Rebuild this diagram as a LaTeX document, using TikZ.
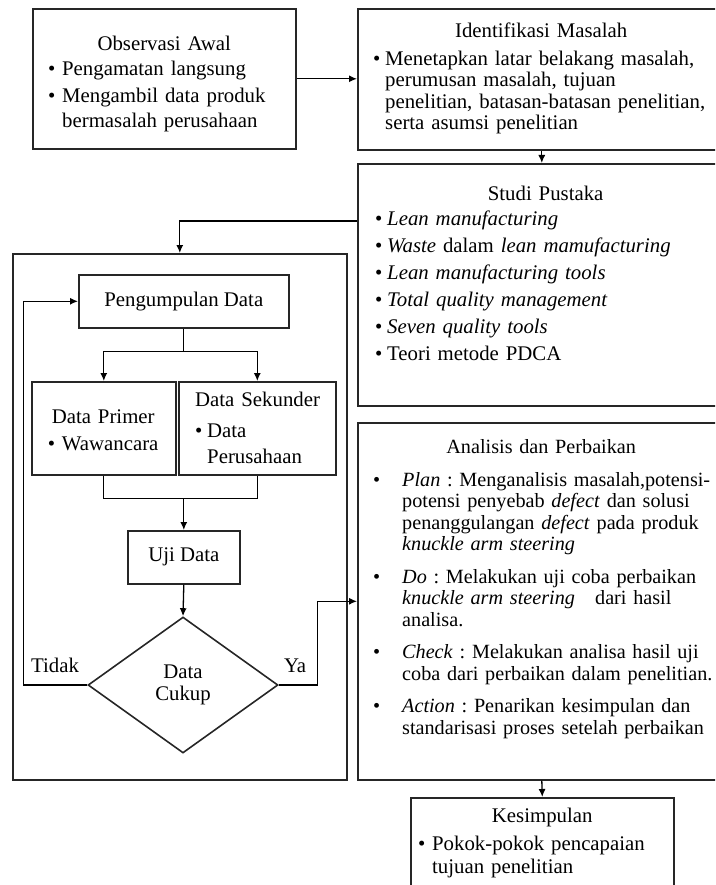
\documentclass[tikz,border=0pt]{standalone}
\usepackage{fontspec}
\setmainfont{Liberation Serif}
\usetikzlibrary{calc,arrows.meta,shapes.geometric}

\newcommand{\butir}[2][14pt]{\par\hangindent=#1\hangafter=1\noindent\makebox[#1][l]{\textbullet}#2\par}
\newcommand{\poin}[1]{\par\noindent\makebox[29pt][l]{\textbullet}\parbox[t]{313pt}{\strut#1\strut}\par}
\newcommand{\penuh}[1]{\makebox[\linewidth][s]{#1}}

\begin{document}
\begin{tikzpicture}[x=1pt, y=-1pt, font=\fontsize{20.8}{21.5}\selectfont,
	kotak/.style={draw=black!85, line width=1.6pt, rectangle, inner sep=0pt, anchor=north west},
	isi/.style={inner sep=0pt, anchor=north west, align=left},
	panah/.style={-{Latex[length=8pt,width=7pt]}, line width=1.3pt},
	garis/.style={line width=1.3pt}]
	\useasboundingbox (0,0) rectangle (715,885);
	\clip (0,0) rectangle (715,885);

	% kotak-kotak utama
	\node[kotak, minimum width=263pt, minimum height=140pt] (observasi) at (32,8) {};
	\node[kotak, minimum width=368pt, minimum height=141pt] (identifikasi) at (357,8) {};
	\node[kotak, minimum width=368pt, minimum height=242pt] (studi) at (357,163) {};
	\node[kotak, minimum width=334pt, minimum height=526pt] (besar) at (12,253) {};
	\node[kotak, minimum width=368pt, minimum height=357pt] (analisis) at (357,422) {};
	\node[kotak, minimum width=263pt, minimum height=110pt] (kesimpulan) at (410,797) {};

	% pengumpulan data
	\node[kotak, minimum width=210pt, minimum height=53pt] (kumpul) at (78,274) {Pengumpulan Data};
	\node[kotak, minimum width=144pt, minimum height=93pt] (primer) at (31,381) {};
	\node[kotak, minimum width=157pt, minimum height=93pt] (sekunder) at (178,381) {};
	\node[kotak, minimum width=112pt, minimum height=53pt] (uji) at (127,530) {Uji Data};
	\node[draw=black!85, line width=1.6pt, diamond, aspect=1.4, inner sep=0pt,
		minimum width=190pt, minimum height=136pt, align=center] (cukup) at (183,685) {Data\\Cukup};
	\node[anchor=base east, inner sep=0pt] (tidak) at ([xshift=-8pt,yshift=13pt]cukup.west) {Tidak};
	\node[anchor=base west, inner sep=0pt] (ya) at ([xshift=5pt,yshift=13pt]cukup.east) {Ya};

	% isi teks
	\node[isi, text width=232pt, font=\fontsize{20.8}{25}\selectfont] (teks observasi) at (48,32.5) {%
		{\centering\strut Observasi Awal\par}
		\butir{Pengamatan langsung}
		\vspace{2pt}
		\butir{Mengambil data produk\newline bermasalah perusahaan}};
	\node[isi, text width=345pt] (teks identifikasi) at (373,22) {%
		{\centering\strut\hspace*{-9pt}Identifikasi Masalah\par}
		\vspace{6.5pt}
		\butir[12pt]{Menetapkan latar belakang masalah,\newline perumusan masalah, tujuan\newline
			penelitian, batasan-batasan penelitian,\newline serta asumsi penelitian}};
	\node[isi, text width=340pt] (teks studi) at (375,185) {%
		\setlength\parskip{5.5pt}
		{\centering\strut\hspace*{-6pt}Studi Pustaka\par}
		\vspace{-2pt}
		\butir[12pt]{\textit{Lean manufacturing}}
		\butir[12pt]{\textit{Waste} dalam \textit{lean mamufacturing}}
		\butir[12pt]{\textit{Lean manufacturing tools}}
		\butir[12pt]{\textit{Total quality management}}
		\butir[12pt]{\textit{Seven quality tools}}
		\butir[12pt]{Teori metode PDCA}};
	\node[isi, text width=346pt, font=\fontsize{20.2}{21.5}\selectfont] (teks analisis) at (373,438) {%
		\frenchspacing
		{\centering\strut\hspace*{-10pt}Analisis dan Perbaikan\par}
		\vspace{11.5pt}
		\poin{\penuh{\textit{Plan} : Menganalisis masalah,potensi-}\\
			\penuh{potensi penyebab \textit{defect} dan solusi}\\
			\penuh{penanggulangan \textit{defect} pada produk}\\
			\mbox{\textit{knuckle arm steering}}}
		\vspace{10pt}
		\poin{\penuh{\textit{Do} : Melakukan uji coba perbaikan}\\
			\penuh{\textit{knuckle arm steering}\quad dari hasil}\\
			\mbox{analisa.}}
		\vspace{10pt}
		\poin{\penuh{\textit{Check} : Melakukan analisa hasil uji}\\
			\penuh{coba dari perbaikan dalam penelitian.}}
		\vspace{10pt}
		\poin{\penuh{\textit{Action} : Penarikan kesimpulan dan}\\
			\mbox{standarisasi proses setelah perbaikan}}};
	\node[isi, text width=248pt, font=\fontsize{20.8}{23}\selectfont] (teks kesimpulan) at (418,806) {%
		{\centering\strut Kesimpulan\par}
		\vspace{5pt}
		\butir{Pokok-pokok pencapaian\newline tujuan penelitian}};
	\node[isi, text width=144pt, align=center] (teks primer) at (31,408) {%
		\strut Data Primer\par\vspace{5.5pt}\makebox[14pt][l]{\textbullet}Wawancara};
	\node[isi, text width=135pt, font=\fontsize{20.8}{26}\selectfont] (teks sekunder) at (195,388) {%
		\strut Data Sekunder\par\vspace{5pt}\butir[12pt]{Data\newline Perusahaan}};

	% panah
	\draw[panah] (observasi.east) -- (observasi.east -| identifikasi.west);
	\draw[panah] (identifikasi.south) -- (studi.north);
	\draw[panah] ($(studi.north west)+(0,58)$) -| (besar.north);
	\draw[garis] (kumpul.south) -- ++(0,23) coordinate (pisah);
	\draw[panah] (pisah) -| (primer.north);
	\draw[panah] (pisah) -| (sekunder.north);
	\coordinate (gabung) at ($(primer.south)+(0,23)$);
	\draw[garis] (primer.south) -- (gabung) -| (sekunder.south);
	\draw[panah] (gabung -| uji.north) -- (uji.north);
	\draw[panah] (uji.south) -- (cukup.north);
	\draw[panah] (cukup.west) -- ++(-64,0) |- (kumpul.west);
	\draw[panah] (cukup.east) -- ++(39,0) |- (analisis.west);
	\draw[panah] (analisis.south) -- (kesimpulan.north);
\end{tikzpicture}
\end{document}
